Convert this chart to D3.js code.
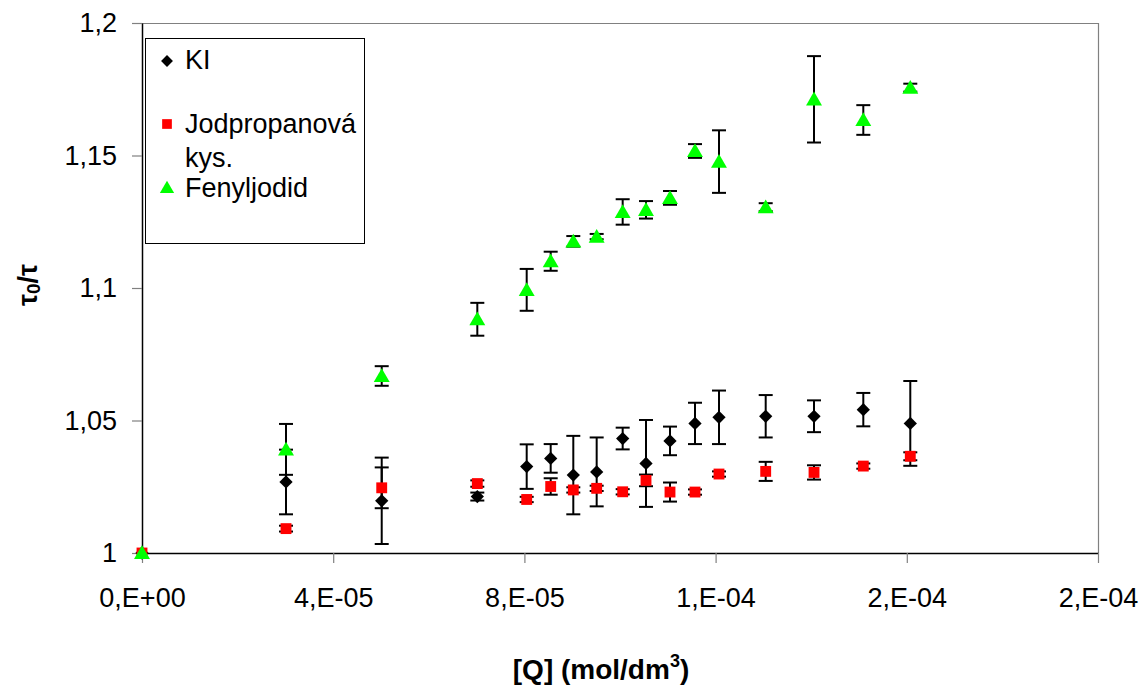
<!DOCTYPE html>
<html>
<head>
<meta charset="utf-8">
<script src="https://cdn.jsdelivr.net/npm/d3@7"></script>
<style>
  html, body { margin: 0; padding: 0; background: #fff; }
  svg { display: block; }
  text { font-family: "Liberation Sans", Arial, sans-serif; }
</style>
</head>
<body>
<svg id="chart" width="1146" height="688"></svg>
<script>
// ---- data ----
const concentrations = [0, 3.013e-5, 5.015e-5, 7.015e-5, 8.048e-5, 8.55e-5, 9.023e-5, 9.512e-5, 1.0056e-4, 1.0544e-4, 1.1046e-4, 1.1569e-4, 1.2071e-4, 1.3048e-4, 1.4059e-4, 1.509e-4, 1.6073e-4];
const kiValues   = [1, 1.0268, 1.0197, 1.0213, 1.0326, 1.0357, 1.0294, 1.0306, 1.0432, 1.0338, 1.0423, 1.0489, 1.0512, 1.0516, 1.0516, 1.0541, 1.0489];
const kiErrors   = [0, 0.0122, 0.0163, 0.0015, 0.0084, 0.0054, 0.0148, 0.013, 0.0041, 0.0164, 0.0054, 0.0078, 0.0101, 0.008, 0.006, 0.0063, 0.016];
const jodValues  = [1, 1.0092, 1.0246, 1.0262, 1.0202, 1.0251, 1.0238, 1.0244, 1.0231, 1.0274, 1.023, 1.023, 1.0298, 1.0308, 1.0304, 1.0328, 1.0365];
const jodErrors  = [0, 0.0011, 0.0077, 0.0012, 0.001, 0.0031, 0.001, 0.001, 0.001, 0.0022, 0.0036, 0.001, 0.001, 0.0036, 0.0027, 0.001, 0.0015];
const fenValues  = [1, 1.0391, 1.0668, 1.0882, 1.0993, 1.1101, 1.1176, 1.1194, 1.1287, 1.1295, 1.134, 1.1517, 1.1477, 1.1305, 1.1712, 1.1634, 1.1756];
const fenErrors  = [0, 0.0096, 0.0037, 0.0062, 0.0079, 0.0036, 0.002, 0.001, 0.0048, 0.0033, 0.0026, 0.0026, 0.0118, 0.0015, 0.0163, 0.0056, 0.0015];
const seriesNames = ["KI", "Jodpropanová kys.", "Fenyljodid"];
const xTickValues = [0, 4e-5, 8e-5, 1.2e-4, 1.6e-4, 2e-4];
const xTickLabels = ["0,E+00", "4,E-05", "8,E-05", "1,E-04", "2,E-04", "2,E-04"];
const yTickValues = [1, 1.05, 1.1, 1.15, 1.2];
const yTickLabels = ["1", "1,05", "1,1", "1,15", "1,2"];

// ---- layout ----
const svg = d3.select("#chart");
const plotL = 142, plotR = 1098, plotT = 23, plotB = 553;
const x = d3.scaleLinear().domain([0, 2e-4]).range([plotL, plotR]);
const y = d3.scaleLinear().domain([1, 1.2]).range([plotB, plotT]);

// plot frame: top/right gray
svg.append("line").attr("x1", plotL).attr("x2", plotR).attr("y1", plotT + 0.5).attr("y2", plotT + 0.5)
  .attr("stroke", "#808080").attr("stroke-width", 1.2);
svg.append("line").attr("x1", plotR + 0.5).attr("x2", plotR + 0.5).attr("y1", plotT).attr("y2", plotB)
  .attr("stroke", "#808080").attr("stroke-width", 1.2);

// axes
const xAxis = d3.axisBottom(x).tickValues(xTickValues)
  .tickFormat((d, i) => xTickLabels[i]).tickSize(10).tickSizeOuter(0).tickPadding(25);
const gx = svg.append("g").attr("transform", `translate(0,${plotB})`).call(xAxis);
gx.select(".domain").attr("stroke", "#000").attr("stroke-width", 1.5);
gx.selectAll(".tick line").attr("stroke", "#808080").attr("stroke-width", 1.2);
gx.selectAll(".tick text").attr("font-size", 27).attr("fill", "#000")
  .attr("font-family", "'Liberation Sans', Arial, sans-serif").attr("dy", "0.71em");

const yAxis = d3.axisLeft(y).tickValues(yTickValues)
  .tickFormat((d, i) => yTickLabels[i]).tickSize(10).tickSizeOuter(0).tickPadding(15);
const gy = svg.append("g").attr("transform", `translate(${plotL},0)`).call(yAxis);
gy.select(".domain").attr("stroke", "#000").attr("stroke-width", 1.5);
gy.selectAll(".tick line").attr("stroke", "#808080").attr("stroke-width", 1.2);
gy.selectAll(".tick text").attr("font-size", 27).attr("fill", "#000")
  .attr("font-family", "'Liberation Sans', Arial, sans-serif");

// axis titles
const xt = svg.append("text").attr("x", 601).attr("y", 679).attr("text-anchor", "middle")
  .attr("font-size", 28).attr("font-weight", "bold");
xt.append("tspan").text("[Q] (mol/dm");
xt.append("tspan").attr("font-size", 18).attr("dy", -12).text("3");
xt.append("tspan").attr("dy", 12).text(")");

const yt = svg.append("text").attr("transform", "translate(37,285) rotate(-90)")
  .attr("text-anchor", "middle").attr("font-size", 27).attr("font-weight", "bold")
  .attr("font-family", "'DejaVu Serif', 'Liberation Serif', serif");
yt.append("tspan").text("τ");
yt.append("tspan").attr("font-size", 19).attr("dy", 3).text("0");
yt.append("tspan").attr("dy", -3).text("/τ");

// ---- series ----
const series = [
  { name: seriesNames[0], values: kiValues, errors: kiErrors, color: "#000000", symbol: d3.symbolSquare, size: 88, rotate: 45 },
  { name: seriesNames[1], values: jodValues, errors: jodErrors, color: "#ff0000", symbol: d3.symbolSquare, size: 118, rotate: 0 },
  { name: seriesNames[2], values: fenValues, errors: fenErrors, color: "#00ff00", symbol: d3.symbolTriangle, size: 110, rotate: 0 }
];

// error bars
const capHalf = 7;
series.forEach(s => {
  const g = svg.append("g").attr("stroke", "#000").attr("stroke-width", 2);
  concentrations.forEach((c, i) => {
    const e = s.errors[i];
    if (!e) return;
    const cx = x(c), y1 = y(s.values[i] + e), y2 = y(s.values[i] - e);
    g.append("line").attr("x1", cx).attr("x2", cx).attr("y1", y1).attr("y2", y2);
    g.append("line").attr("x1", cx - capHalf).attr("x2", cx + capHalf).attr("y1", y1).attr("y2", y1);
    g.append("line").attr("x1", cx - capHalf).attr("x2", cx + capHalf).attr("y1", y2).attr("y2", y2);
  });
});

// markers
series.forEach(s => {
  const sym = d3.symbol().type(s.symbol).size(s.size);
  const g = svg.append("g");
  concentrations.forEach((c, i) => {
    const dy = s.symbol === d3.symbolTriangle ? 1.5 : 0; // center triangle bbox on point
    g.append("path").attr("d", sym())
      .attr("transform", `translate(${x(c)},${y(s.values[i]) + dy}) rotate(${s.rotate})`)
      .attr("fill", s.color);
  });
});

// ---- legend ----
const lg = svg.append("g");
lg.append("rect").attr("x", 145.5).attr("y", 38.5).attr("width", 219).attr("height", 205)
  .attr("fill", "#fff").attr("stroke", "#000").attr("stroke-width", 1);
const legendItems = [
  { s: series[0], my: 61, lines: ["KI"], ty: [69] },
  { s: series[1], my: 124, lines: ["Jodpropanová", "kys."], ty: [133, 167] },
  { s: series[2], my: 189, lines: ["Fenyljodid"], ty: [197] }
];
legendItems.forEach(it => {
  const sym = d3.symbol().type(it.s.symbol).size(it.s.size * 0.8);
  lg.append("path").attr("d", sym())
    .attr("transform", `translate(167,${it.my}) rotate(${it.s.rotate})`).attr("fill", it.s.color);
  it.lines.forEach((t, j) => {
    lg.append("text").attr("x", 185).attr("y", it.ty[j]).attr("font-size", 27).text(t);
  });
});
</script>
</body>
</html>
